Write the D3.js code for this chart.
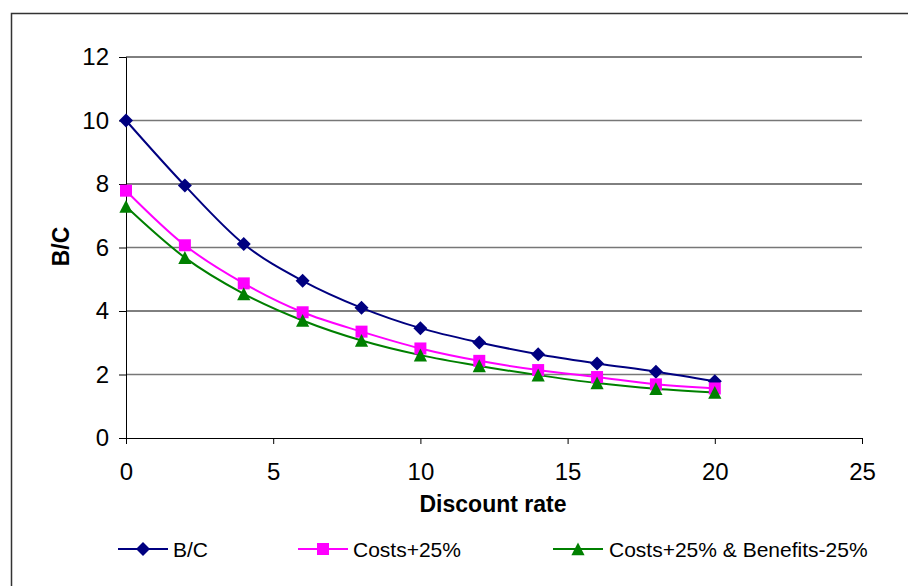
<!DOCTYPE html>
<html>
<head>
<meta charset="utf-8">
<script src="https://cdn.jsdelivr.net/npm/d3@7"></script>
<style>
  html, body { margin: 0; padding: 0; background: #fff; }
  svg { display: block; font-family: "Liberation Sans", Arial, sans-serif; }
</style>
</head>
<body>
<svg id="chart" width="908" height="586"></svg>
<script>
// Discount rates (%) at which the benefit/cost ratio was evaluated
const discountRates = [0, 2, 4, 6, 8, 10, 12, 14, 16, 18, 20];

// Benefit/cost ratios per scenario
const bcBase        = [10.0, 7.95, 6.11, 4.95, 4.10, 3.46, 3.01, 2.64, 2.35, 2.09, 1.79];
const bcCostsUp     = [7.79, 6.07, 4.87, 3.96, 3.35, 2.82, 2.43, 2.14, 1.92, 1.69, 1.56];
const bcCostsBenDn  = [7.29, 5.68, 4.54, 3.70, 3.07, 2.61, 2.27, 1.98, 1.73, 1.55, 1.43];

const seriesNames = ["B/C", "Costs+25%", "Costs+25% & Benefits-25%"];
const xTicks = [0, 5, 10, 15, 20, 25];
const yTicks = [0, 2, 4, 6, 8, 10, 12];

// marker shapes in the classic spreadsheet style (size = half extent in px)
const diamond = { draw(ctx, r) { ctx.moveTo(0, -r); ctx.lineTo(r, 0); ctx.lineTo(0, r); ctx.lineTo(-r, 0); ctx.closePath(); } };
const square  = { draw(ctx, r) { ctx.rect(-r, -r, 2 * r, 2 * r); } };
const triangle = { draw(ctx, r) { ctx.moveTo(0, -r); ctx.lineTo(r, r * 0.95); ctx.lineTo(-r, r * 0.95); ctx.closePath(); } };

const series = [
  { name: seriesNames[0], values: bcBase,       color: "#000080", type: diamond,  r: 7 },
  { name: seriesNames[1], values: bcCostsUp,    color: "#ff00ff", type: square,   r: 6 },
  { name: seriesNames[2], values: bcCostsBenDn, color: "#008000", type: triangle, r: 6.6 }
];

const svg = d3.select("#chart");

// outer chart-area border
svg.append("rect")
  .attr("x", 11.5).attr("y", 13.5)
  .attr("width", 1000).attr("height", 1000)
  .attr("fill", "none").attr("stroke", "#333").attr("stroke-width", 1.5);

const x = d3.scaleLinear().domain([0, 25]).range([126, 862]);
const y = d3.scaleLinear().domain([0, 12]).range([438, 57]);

// horizontal gridlines
svg.append("g").selectAll("line")
  .data(yTicks.filter(v => v > 0))
  .join("line")
  .attr("x1", x(0)).attr("x2", x(25))
  .attr("y1", d => y(d)).attr("y2", d => y(d))
  .attr("stroke", d => (d % 4 === 0) ? "#000" : "#777")
  .attr("stroke-width", d => (d % 4 === 0) ? 1 : 1.6);

const tickFont = 24;

// y axis
const yAxis = svg.append("g")
  .attr("transform", `translate(${x(0)},0)`)
  .call(d3.axisLeft(y).tickValues(yTicks).tickSize(7).tickPadding(10).tickFormat(d3.format("d")));
yAxis.select(".domain").attr("stroke", "#000").attr("stroke-width", 1);
yAxis.selectAll(".tick line").attr("stroke", "#000");
yAxis.selectAll(".tick text")
  .attr("font-size", tickFont).attr("fill", "#000")
  .attr("font-family", "'Liberation Sans', Arial, sans-serif");

// x axis
const xAxis = svg.append("g")
  .attr("transform", `translate(0,${y(0)})`)
  .call(d3.axisBottom(x).tickValues(xTicks).tickSize(6).tickPadding(19).tickFormat(d3.format("d")));
xAxis.select(".domain").attr("stroke", "#000").attr("stroke-width", 1);
xAxis.selectAll(".tick line").attr("stroke", "#000");
xAxis.selectAll(".tick text")
  .attr("font-size", tickFont).attr("fill", "#000")
  .attr("font-family", "'Liberation Sans', Arial, sans-serif");

// axis titles
svg.append("text")
  .attr("x", 493).attr("y", 512)
  .attr("text-anchor", "middle")
  .attr("font-size", 23).attr("font-weight", "bold")
  .text("Discount rate");

svg.append("text")
  .attr("transform", `translate(69,${y(6) - 1}) rotate(-90)`)
  .attr("text-anchor", "middle")
  .attr("font-size", 23).attr("font-weight", "bold")
  .text("B/C");

// smoothed series lines
const line = d3.line()
  .x((d, i) => x(discountRates[i]))
  .y(d => y(d))
  .curve(d3.curveCatmullRom.alpha(0));

const gSeries = svg.append("g");
series.forEach(s => {
  gSeries.append("path")
    .datum(s.values)
    .attr("d", line)
    .attr("fill", "none")
    .attr("stroke", s.color)
    .attr("stroke-width", 2);
});

// markers drawn above all lines
series.forEach(s => {
  const sym = d3.symbol().type(s.type).size(s.r);
  gSeries.append("g").selectAll("path")
    .data(s.values)
    .join("path")
    .attr("d", sym)
    .attr("transform", (d, i) => `translate(${x(discountRates[i])},${y(d)})`)
    .attr("fill", s.color);
});

// legend
const legendItems = [
  { lx: 118, tx: 173 },
  { lx: 298, tx: 353 },
  { lx: 553, tx: 609 }
];
const legendY = 549;
const legend = svg.append("g");
series.forEach((s, i) => {
  const it = legendItems[i];
  legend.append("line")
    .attr("x1", it.lx).attr("x2", it.lx + 50)
    .attr("y1", legendY).attr("y2", legendY)
    .attr("stroke", s.color).attr("stroke-width", 2);
  legend.append("path")
    .attr("d", d3.symbol().type(s.type).size(s.r)())
    .attr("transform", `translate(${it.lx + 25},${legendY})`)
    .attr("fill", s.color);
  legend.append("text")
    .attr("x", it.tx).attr("y", legendY + 8)
    .attr("font-size", 21).attr("fill", "#000")
    .text(s.name);
});
</script>
</body>
</html>
